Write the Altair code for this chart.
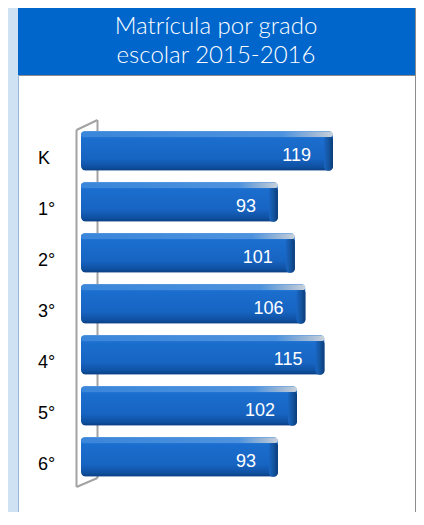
import altair as alt
import pandas as pd

# ---- data ----
grades = ["K", "1°", "2°", "3°", "4°", "5°", "6°"]
students = [119, 93, 101, 106, 115, 102, 93]
title_lines = ["Matrícula por grado", "escolar 2015-2016"]

df = pd.DataFrame({"grado": grades, "matricula": students})
one = pd.DataFrame({"k": [0]})

W, H = 398, 504
BG = "#cfe2f3"
HEADER = "#0066cc"
WALL = "#a3a3a3"

x_scale = alt.Scale(domain=[0, 119], range=[63, 315], nice=False, zero=True)
y_scale = alt.Scale(domain=grades, range=[117.2, 474.2],
                    paddingInner=0.2157, paddingOuter=0.1078)

def grad_v(stops):
    return alt.Gradient(gradient="linear", x1=0, y1=0, x2=0, y2=1,
                        stops=[alt.GradientStop(offset=o, color=c) for o, c in stops])

def grad_h(stops):
    return alt.Gradient(gradient="linear", x1=0, y1=0, x2=1, y2=0,
                        stops=[alt.GradientStop(offset=o, color=c) for o, c in stops])

# ---- panel decoration ----
header = alt.Chart(one).mark_rect(color=HEADER).encode(
    x=alt.value(0), x2=alt.value(W), y=alt.value(0), y2=alt.value(67))
header_line = alt.Chart(one).mark_rule(color="#8c8c8c", strokeWidth=1).encode(
    x=alt.value(0), x2=alt.value(W), y=alt.value(67.5))
right_border = alt.Chart(one).mark_rule(color="#8c8c8c", strokeWidth=1).encode(
    x=alt.value(W - 0.5), y=alt.value(0), y2=alt.value(H))
left_border = alt.Chart(one).mark_rule(color="#9bb7d4", strokeWidth=1).encode(
    x=alt.value(0.5), y=alt.value(67), y2=alt.value(H))

t1 = alt.Chart(one).mark_text(
    text=title_lines[0], font="Lato", fontWeight=300, fontSize=24,
    color="white", align="center", baseline="alphabetic").encode(
    x=alt.value(198), y=alt.value(26.3))
t2 = alt.Chart(one).mark_text(
    text=title_lines[1], font="Lato", fontWeight=300, fontSize=24,
    color="white", align="center", baseline="alphabetic").encode(
    x=alt.value(198), y=alt.value(55.3))

# ---- 3D wall ----
def seg(xa, ya, xb, yb):
    return alt.Chart(one).mark_rule(color=WALL, strokeWidth=2).encode(
        x=alt.value(xa), y=alt.value(ya), x2=alt.value(xb), y2=alt.value(yb))

wall = [
    seg(79.5, 112, 79.5, 470),
    seg(58.5, 122, 58.5, 479),
    seg(58.5, 122, 79.5, 112),
    seg(58.5, 479, 79.5, 470),
]

# ---- bars ----
base = alt.Chart(df).encode(
    y=alt.Y("grado:N", scale=y_scale, axis=None, sort=grades))

bars = base.mark_bar(
    cornerRadius=5,
    fill=grad_v([(0, "#6aa3e2"), (0.1, "#2f7fd8"), (0.2, "#1b6ece"),
                 (0.7, "#1764c2"), (0.9, "#0f51a2"), (1, "#0b3f82")]),
).encode(x=alt.X("matricula:Q", scale=x_scale, axis=None))

top_face = base.mark_bar(
    height=6, yOffset=-16.5, cornerRadius=3,
    fill=grad_h([(0, "#3a86da"), (0.8, "#4d92de"), (0.93, "#9db8d6"), (1, "#c9d2dc")]),
).encode(x=alt.X("matricula:Q", scale=x_scale, axis=None))

side_face = base.mark_bar(
    height=35, yOffset=2.5, cornerRadius=4, xOffset=-9, x2Offset=0,
    fill=grad_h([(0, "#1a66c4"), (0.5, "#13559f"), (1, "#0c3c7a")]),
).encode(
    x=alt.X("matricula:Q", scale=x_scale, axis=None),
    x2="matricula:Q")

values = base.mark_text(
    align="right", baseline="alphabetic", dx=-22, dy=10.5,
    color="white", fontSize=18, font="Liberation Sans",
).encode(x=alt.X("matricula:Q", scale=x_scale, axis=None), text="matricula:Q")

cats = base.mark_text(
    align="left", baseline="alphabetic", dy=13,
    color="black", fontSize=18, font="Liberation Sans",
).encode(x=alt.value(20), text="grado:N")

chart = alt.layer(
    header, header_line, right_border, left_border, t1, t2,
    *wall, bars, side_face, top_face, values, cats,
).properties(
    width=W, height=H, background=BG,
    padding={"left": 10, "top": 0, "right": 0, "bottom": 0},
    autosize=alt.AutoSizeParams(type="none"),
).configure_view(fill="white", strokeWidth=0)

chart.save("out.html", embed_options={"renderer": "svg", "actions": False})
